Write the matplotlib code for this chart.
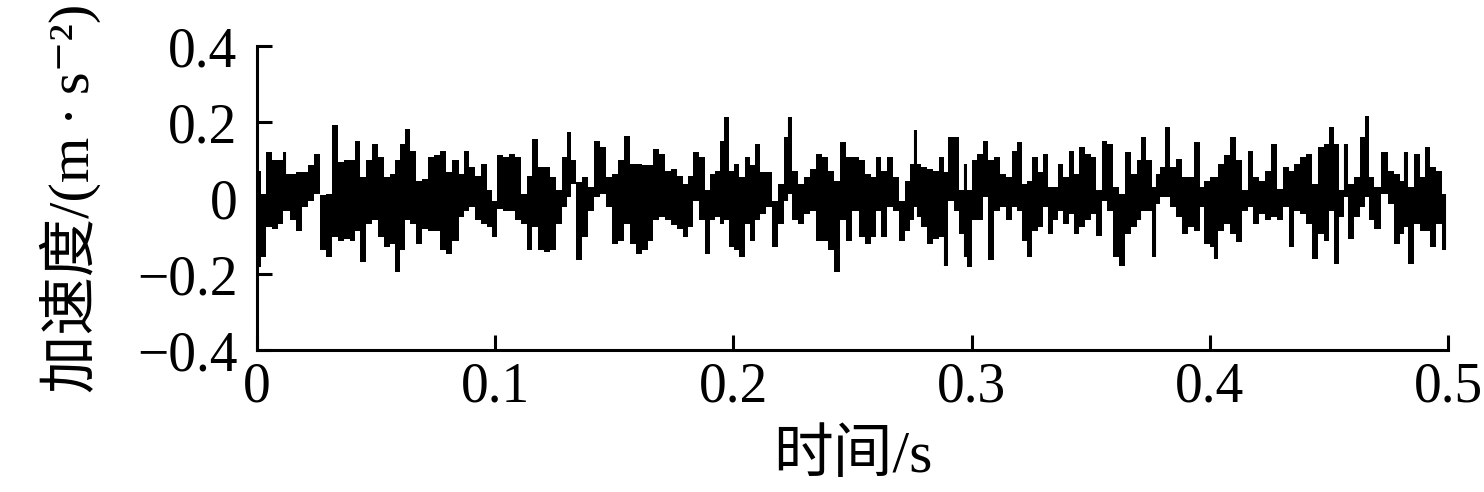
import numpy as np
import matplotlib
matplotlib.use('Agg')
import matplotlib.pyplot as plt

plt.rcParams['font.family'] = ['Liberation Serif', 'DejaVu Serif', 'Noto Sans CJK SC']

# envelope of the dense acceleration trace: time (s), local max, local min (m/s^2)
t = [0.0005, 0.0027, 0.0052, 0.0077, 0.0102, 0.0116, 0.0127, 0.0153, 0.0178, 0.0203,
     0.0228, 0.0253, 0.0279, 0.0304, 0.0329, 0.0354, 0.0379, 0.0404, 0.0421, 0.0446,
     0.0472, 0.0497, 0.0522, 0.0547, 0.0572, 0.0589, 0.0612, 0.0628, 0.0654, 0.0679,
     0.0704, 0.0729, 0.0754, 0.0780, 0.0805,
     0.0835, 0.0861, 0.0877, 0.0903, 0.0928, 0.0953, 0.0978, 0.0995, 0.1020, 0.1045,
     0.1070, 0.1096, 0.1121, 0.1143, 0.1169, 0.1194, 0.1219, 0.1244, 0.1269, 0.1294,
     0.1311, 0.1328, 0.1353, 0.1378, 0.1404, 0.1429, 0.1454, 0.1479, 0.1504, 0.1530,
     0.1555, 0.1580, 0.1605, 0.1630,
     0.1650, 0.1675, 0.1700, 0.1725, 0.1751, 0.1776, 0.1801, 0.1818, 0.1843, 0.1868,
     0.1893, 0.1910, 0.1935, 0.1952, 0.1969, 0.1994, 0.2011, 0.2036, 0.2059, 0.2084,
     0.2100, 0.2126, 0.2151, 0.2176, 0.2201, 0.2226, 0.2235, 0.2260, 0.2285, 0.2310,
     0.2336, 0.2361, 0.2386, 0.2411, 0.2433, 0.2459, 0.2484,
     0.2515, 0.2540, 0.2565, 0.2590, 0.2607, 0.2632, 0.2657, 0.2683, 0.2708, 0.2733,
     0.2750, 0.2764, 0.2775, 0.2800, 0.2825, 0.2851, 0.2876, 0.2890, 0.2915, 0.2935,
     0.2960, 0.2974, 0.2991, 0.3010, 0.3035, 0.3058, 0.3083, 0.3105, 0.3130, 0.3156,
     0.3181, 0.3198, 0.3223, 0.3242, 0.3268, 0.3293, 0.3310,
     0.3329, 0.3354, 0.3371, 0.3396, 0.3419, 0.3441, 0.3464, 0.3489, 0.3511, 0.3536,
     0.3556, 0.3581, 0.3606, 0.3631, 0.3657, 0.3682, 0.3707, 0.3718, 0.3743, 0.3769,
     0.3780, 0.3805, 0.3822, 0.3847, 0.3872, 0.3897, 0.3922, 0.3948, 0.3967, 0.3987,
     0.4012, 0.4023, 0.4048, 0.4074, 0.4099, 0.4124, 0.4149,
     0.4169, 0.4194, 0.4219, 0.4244, 0.4270, 0.4295, 0.4320, 0.4342, 0.4367, 0.4393,
     0.4418, 0.4443, 0.4468, 0.4493, 0.4510, 0.4530, 0.4555, 0.4569, 0.4594, 0.4619,
     0.4645, 0.4659, 0.4678, 0.4703, 0.4734, 0.4759, 0.4785, 0.4810, 0.4821, 0.4846,
     0.4869, 0.4894, 0.4913, 0.4939, 0.4964, 0.4989]

a_max = [0.072, 0.011, 0.121, 0.099, 0.099, 0.121, 0.064, 0.064, 0.068, 0.068,
         0.086, 0.116, 0.007, 0.011, 0.191, 0.094, 0.099, 0.099, 0.151, 0.055,
         0.099, 0.143, 0.107, 0.055, 0.064, 0.099, 0.143, 0.182, 0.125, 0.046,
         0.050, 0.107, 0.112, 0.125, 0.068,
         0.099, 0.064, 0.125, 0.081, 0.059, 0.090, 0.020, -0.007, 0.112, 0.107,
         0.116, 0.107, 0.011, 0.059, 0.156, 0.081, 0.081, 0.055, 0.020, 0.107,
         0.173, 0.099, 0.042, 0.055, 0.029, 0.151, 0.134, 0.055, 0.064, 0.099,
         0.164, 0.090, 0.090, 0.086,
         0.086, 0.129, 0.116, 0.072, 0.077, 0.059, 0.037, 0.059, 0.121, 0.107,
         0.020, 0.064, 0.072, 0.151, 0.213, 0.072, 0.090, 0.055, 0.107, 0.086,
         0.143, 0.068, 0.068, -0.007, 0.037, 0.160, 0.213, 0.072, 0.037, 0.055,
         0.077, 0.116, 0.107, 0.072, 0.046, 0.147, 0.107,
         0.107, 0.099, 0.064, 0.055, 0.107, 0.072, 0.107, 0.055, -0.007, 0.046,
         0.090, 0.178, 0.090, 0.081, 0.077, 0.072, 0.107, 0.068, 0.160, 0.160,
         0.020, 0.090, 0.020, 0.099, 0.116, 0.151, 0.099, 0.107, 0.064, 0.055,
         0.125, 0.147, 0.037, 0.046, 0.107, 0.068, 0.116,
         0.029, 0.029, 0.090, 0.055, 0.125, 0.064, 0.134, 0.116, 0.107, 0.020,
         0.151, 0.143, 0.029, 0.011, 0.121, 0.064, 0.099, 0.160, 0.099, 0.029,
         0.064, 0.081, 0.186, 0.081, 0.103, 0.055, 0.055, 0.147, 0.029, 0.046,
         0.055, 0.055, 0.090, 0.112, 0.160, 0.099, 0.020,
         0.125, 0.055, 0.046, 0.072, 0.143, 0.024, 0.081, 0.072, 0.090, 0.107,
         0.116, 0.037, 0.134, 0.143, 0.186, 0.143, 0.020, 0.143, 0.037, 0.055,
         0.160, 0.217, 0.055, 0.029, 0.121, 0.072, 0.064, 0.046, 0.121, 0.029,
         0.116, 0.055, 0.134, 0.081, 0.072, 0.011]

a_min = [-0.182, -0.156, -0.077, -0.081, -0.068, -0.033, -0.033, -0.059, -0.086, -0.024,
         -0.007, 0.011, -0.138, -0.156, -0.103, -0.112, -0.107, -0.112, -0.086, -0.169,
         -0.068, -0.059, -0.103, -0.129, -0.121, -0.195, -0.138, -0.059, -0.068, -0.121,
         -0.081, -0.086, -0.086, -0.138, -0.147,
         -0.112, -0.050, -0.033, -0.024, -0.059, -0.068, -0.077, -0.103, -0.029, -0.033,
         -0.033, -0.059, -0.068, -0.138, -0.077, -0.138, -0.143, -0.138, -0.068, -0.024,
         0.002, 0.037, -0.164, -0.103, -0.033, 0.002, 0.011, -0.024, -0.121, -0.112,
         -0.068, -0.121, -0.147, -0.138,
         -0.112, -0.059, -0.050, -0.059, -0.072, -0.081, -0.103, -0.077, -0.007, -0.059,
         -0.147, -0.059, -0.050, -0.068, -0.059, -0.129, -0.138, -0.156, -0.068, -0.112,
         -0.059, -0.042, -0.024, -0.129, -0.068, -0.007, 0.011, -0.059, -0.068, -0.042,
         -0.033, -0.112, -0.112, -0.138, -0.195, -0.059, -0.112,
         -0.033, -0.103, -0.121, -0.103, -0.033, -0.103, -0.024, -0.033, -0.112, -0.086,
         -0.059, -0.024, -0.050, -0.077, -0.121, -0.107, -0.103, -0.178, -0.007, -0.033,
         -0.094, -0.156, -0.182, -0.059, -0.059, 0.002, -0.164, -0.033, -0.024, -0.059,
         -0.024, -0.033, -0.112, -0.156, -0.086, -0.077, -0.024,
         -0.094, -0.059, -0.033, -0.068, -0.042, -0.094, -0.077, -0.059, -0.042, -0.099,
         -0.007, -0.033, -0.156, -0.178, -0.094, -0.077, -0.059, -0.033, -0.033, -0.156,
         -0.015, 0.002, 0.002, -0.024, -0.050, -0.094, -0.077, -0.086, -0.024, -0.121,
         -0.129, -0.160, -0.086, -0.068, -0.094, -0.116, -0.033,
         -0.024, -0.068, -0.042, -0.059, -0.050, -0.059, -0.024, -0.129, -0.033, -0.042,
         -0.068, -0.160, -0.094, -0.112, -0.033, -0.173, -0.050, 0.002, -0.107, -0.050,
         -0.024, 0.002, -0.059, -0.081, 0.011, -0.015, -0.121, -0.094, -0.077, -0.173,
         -0.068, -0.086, -0.086, -0.129, -0.068, -0.138]

x_ticks = [0, 0.1, 0.2, 0.3, 0.4, 0.5]
x_tick_labels = ['0', '0.1', '0.2', '0.3', '0.4', '0.5']
y_ticks = [-0.4, -0.2, 0, 0.2, 0.4]
y_tick_labels = ['\u22120.4', '\u22120.2', '0', '0.2', '0.4']

t = np.array(t)
a_max = np.array(a_max)
a_min = np.array(a_min)

fig = plt.figure(figsize=(14.84, 4.92), dpi=100)
ax = fig.add_axes([0.1732, 0.2886, 0.8025, 0.6179])

# blocky band between local extremes, plus thin vertical strokes for the spikes
ax.fill_between(t, a_min, a_max, step='mid', color='black', linewidth=0)
ax.vlines(t, a_min, a_max, color='black', linewidth=1.5)

ax.set_xlim(0, 0.5)
ax.set_ylim(-0.4, 0.4)
ax.set_xticks(x_ticks)
ax.set_xticklabels(x_tick_labels)
ax.set_yticks(y_ticks)
ax.set_yticklabels(y_tick_labels)

for side in ['top', 'right']:
    ax.spines[side].set_visible(False)
for side in ['left', 'bottom']:
    ax.spines[side].set_linewidth(2.2)

ax.tick_params(direction='in', length=11, width=2.2, labelsize=40)
ax.tick_params(axis='y', pad=14)
ax.tick_params(axis='x', pad=8)

ax.set_xlabel('时间/s', fontsize=43, labelpad=12)
ax.set_ylabel('加速度/(m\u2009·\u2009s\u207b\u00b2)', fontsize=42, labelpad=26)

fig.savefig('out.png', dpi=100)
